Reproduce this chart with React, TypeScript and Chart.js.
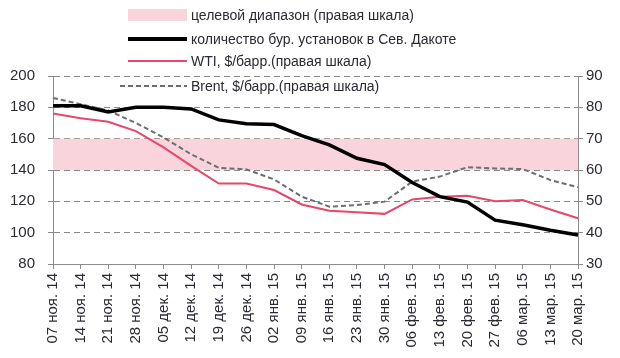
import React, { useEffect, useRef } from "react";
import { Chart, registerables } from "chart.js";

Chart.register(...registerables);

const categories = [
  "07 ноя. 14", "14 ноя. 14", "21 ноя. 14", "28 ноя. 14", "05 дек. 14",
  "12 дек. 14", "19 дек. 14", "26 дек. 14", "02 янв. 15", "09 янв. 15",
  "16 янв. 15", "23 янв. 15", "30 янв. 15", "06 фев. 15", "13 фев. 15",
  "20 фев. 15", "27 фев. 15", "06 мар. 15", "13 мар. 15", "20 мар. 15",
];
const rigs = [181, 181, 177, 180, 180, 179, 172, 169.5, 169, 162, 156, 147.5, 143.5, 132, 123, 119.5, 108, 105, 101.5, 98.5];
const wti = [78, 76.5, 75.4, 72.4, 67.2, 61.3, 55.7, 55.7, 53.6, 49, 47, 46.5, 46, 50.6, 51.5, 51.8, 50, 50.4, 47.4, 44.6];
const brent = [83, 81, 79, 75, 70.4, 65, 60.7, 60.2, 57, 51.5, 48.3, 48.8, 49.9, 56.3, 57.9, 60.9, 60.5, 60.3, 56.8, 54.5];
const targetLow = 60;
const targetHigh = 70;
const legendLabels = [
  "целевой диапазон (правая шкала)",
  "количество бур. установок в Сев. Дакоте",
  "WTI, $/барр.(правая шкала)",
  "Brent, $/барр.(правая шкала)",
];

const FONT = "'Liberation Sans', Arial, sans-serif";
const PINK_BAND = "rgba(249, 212, 221, 1)";
const WTI_COLOR = "#E8466B";
const BRENT_COLOR = "#6E6E6E";
const TEXT = "#2a2a33";

const legendPlugin = {
  id: "customLegend",
  afterDraw(chart: any) {
    const ctx = chart.ctx;
    ctx.save();
    const x0 = 124, x1 = 187, tx = 191;
    const rows = [15, 39, 61, 86];
    ctx.font = `14px ${FONT}`;
    ctx.textBaseline = "middle";
    ctx.textAlign = "left";
    ctx.fillStyle = PINK_BAND;
    ctx.fillRect(x0 + 4, rows[0] - 6, x1 - x0 - 4, 12);
    ctx.strokeStyle = "#000";
    ctx.lineWidth = 4;
    ctx.beginPath(); ctx.moveTo(x0 + 4, rows[1]); ctx.lineTo(x1, rows[1]); ctx.stroke();
    ctx.strokeStyle = WTI_COLOR;
    ctx.lineWidth = 2;
    ctx.beginPath(); ctx.moveTo(x0 + 4, rows[2]); ctx.lineTo(x1, rows[2]); ctx.stroke();
    ctx.strokeStyle = BRENT_COLOR;
    ctx.setLineDash([5, 3]);
    ctx.beginPath(); ctx.moveTo(x0 - 4, rows[3]); ctx.lineTo(x1, rows[3]); ctx.stroke();
    ctx.setLineDash([]);
    ctx.fillStyle = TEXT;
    legendLabels.forEach((t, i) => ctx.fillText(t, tx, rows[i] + 1));
    ctx.restore();
  },
};

export default function App() {
  const ref = useRef<HTMLCanvasElement | null>(null);
  useEffect(() => {
    if (!ref.current) return;
    const chart = new Chart(ref.current, {
      type: "line",
      data: {
        labels: categories,
        datasets: [
          {
            label: "high",
            data: categories.map(() => targetHigh),
            yAxisID: "y1",
            borderWidth: 0,
            borderColor: "transparent",
            pointRadius: 0,
            backgroundColor: PINK_BAND,
            fill: "+1",
            order: 10,
          },
          {
            label: "low",
            data: categories.map(() => targetLow),
            yAxisID: "y1",
            borderWidth: 0,
            borderColor: "transparent",
            pointRadius: 0,
            fill: false,
            order: 10,
          },
          {
            label: legendLabels[3],
            data: brent,
            yAxisID: "y1",
            borderColor: BRENT_COLOR,
            borderWidth: 2,
            borderDash: [5, 3],
            pointRadius: 0,
            fill: false,
            order: 3,
          },
          {
            label: legendLabels[2],
            data: wti,
            yAxisID: "y1",
            borderColor: WTI_COLOR,
            borderWidth: 2,
            pointRadius: 0,
            fill: false,
            order: 2,
          },
          {
            label: legendLabels[1],
            data: rigs,
            yAxisID: "y",
            borderColor: "#000",
            borderWidth: 3.5,
            pointRadius: 0,
            fill: false,
            order: 1,
          },
        ],
      },
      options: {
        responsive: false,
        animation: false,
        layout: { padding: { top: 76, left: 0, right: 0, bottom: 0 } },
        plugins: {
          legend: { display: false },
          tooltip: { enabled: false },
          filler: { drawTime: "beforeDatasetsDraw" },
        },
        scales: {
          x: {
            offset: false,
            grid: { drawOnChartArea: false, drawTicks: true, tickLength: 5, color: "#8c8c8c" },
            border: { color: "#8c8c8c", width: 1 },
            ticks: {
              minRotation: 90,
              maxRotation: 90,
              autoSkip: false,
              padding: 4,
              color: TEXT,
              font: { family: FONT, size: 15 },
            },
            afterFit: (s: any) => { s.height = 94; },
          },
          y: {
            position: "left",
            min: 80,
            max: 200,
            ticks: { stepSize: 20, padding: 13, color: TEXT, font: { family: FONT, size: 15 } },
            grid: { color: "#8a8a8a", tickLength: 5, lineWidth: 1 },
            border: { color: "#8c8c8c", dash: [6, 4] },
            afterFit: (s: any) => { s.width = 53; },
          },
          y1: {
            position: "right",
            min: 30,
            max: 90,
            ticks: { stepSize: 10, padding: 3, color: TEXT, font: { family: FONT, size: 15 } },
            grid: { drawOnChartArea: false, tickLength: 5, color: "#8c8c8c" },
            border: { color: "#8c8c8c" },
            afterFit: (s: any) => { s.width = 42; },
          },
        },
      },
      plugins: [legendPlugin],
    });
    return () => chart.destroy();
  }, []);
  return (
    <div style={{ position: "fixed", left: 0, top: 0, width: 620, height: 358, background: "#fff" }}>
      <canvas ref={ref} width={620} height={358} style={{ display: "block" }} />
    </div>
  );
}
